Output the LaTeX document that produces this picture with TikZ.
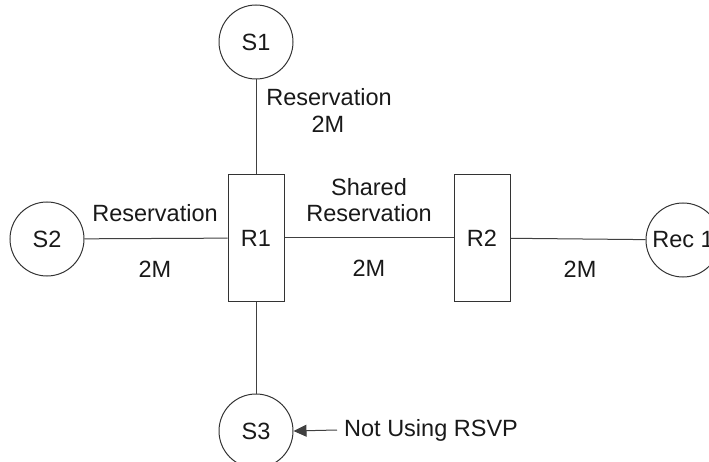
\documentclass[tikz,border=0pt]{standalone}
\usepackage{fontspec}
\setmainfont{Liberation Sans}
\usetikzlibrary{arrows.meta}
\begin{document}
\begin{tikzpicture}[x=1pt,y=-1pt,
  every node/.style={font=\fontsize{23.5}{28}\selectfont, text=black!90},
  host/.style={draw=black!80, line width=1pt, circle, minimum size=74pt, inner sep=0pt},
  router/.style={draw=black!80, line width=1pt, rectangle, minimum width=56pt, minimum height=126pt, inner sep=0pt},
  link/.style={draw=black!75, line width=1pt},
  lbl/.style={inner sep=0pt, align=center}]
\useasboundingbox (0,0) rectangle (709,462);
\clip (0,0) rectangle (709,462);
\node[host] (S1) at (256,42) {S1};
\node[host] (S2) at (47,239) {S2};
\node[host] (S3) at (256,431) {S3};
\node[host] (Rec) at (683,240) {Rec 1};
\node[router] (R1) at (256,238) {R1};
\node[router] (R2) at (482,238) {R2};
\draw[link] (S1) -- (R1);
\draw[link] (S2) -- (R1);
\draw[link] (R1) -- (R2);
\draw[link] (R2) -- (Rec);
\draw[link] (R1) -- (S3);
\node[lbl] (l1a) at (329,97) {Reservation};
\node[lbl] (l1b) at (328,124) {2M};
\node[lbl] (l2a) at (155,213) {Reservation};
\node[lbl] (l2b) at (155,269) {2M};
\node[lbl] (l3a) at (369,187) {Shared};
\node[lbl] (l3b) at (369,213) {Reservation};
\node[lbl] (l3c) at (369,268) {2M};
\node[lbl] (l4) at (580,269) {2M};
\node[lbl, anchor=west] (nu) at (344,430) {Not Using RSVP};
\coordinate (tail) at (337,430);
\draw[link, -{Triangle[length=13pt,width=12pt]}] (tail) -- (S3.east);
\end{tikzpicture}
\end{document}
